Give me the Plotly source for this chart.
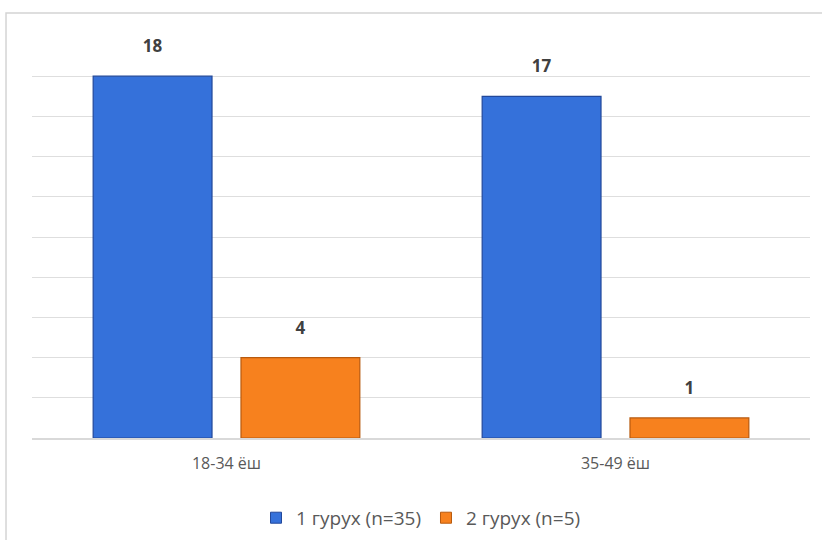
import plotly.graph_objects as go

categories = ["18-34 ёш", "35-49 ёш"]
series_names = ["1 гурух (n=35)", "2 гурух (n=5)"]
group1 = [18, 17]
group2 = [4, 1]

colors = ["#3571DA", "#F7811E"]
edge_colors = ["#22489A", "#B85A0E"]

fig = go.Figure()
for i, (name, vals, col, edge) in enumerate(zip(series_names, [group1, group2], colors, edge_colors)):
    fig.add_trace(go.Bar(
        x=categories, y=vals, name=name, showlegend=False,
        offsetgroup=str(i),
        marker=dict(color=col, line=dict(color=edge, width=1.2)),
    ))
# value labels, aligned with the bars through the group offsets
for i, vals in enumerate([group1, group2]):
    fig.add_trace(go.Scatter(
        x=categories, y=vals, mode="markers+text", showlegend=False,
        offsetgroup=str(i), hoverinfo="skip",
        text=[str(v) for v in vals], textposition="top center",
        textfont=dict(size=17, color="#404040", family="Open Sans", weight="bold"),
        marker=dict(size=30, opacity=0),
        cliponaxis=False,
    ))
# legend entries with small square symbols
for name, col, edge in zip(series_names, colors, edge_colors):
    fig.add_trace(go.Scatter(
        x=[None], y=[None], mode="markers", name=name,
        marker=dict(symbol="square", size=11, color=col, line=dict(color=edge, width=1)),
    ))

fig.update_layout(
    width=822, height=540,
    margin=dict(l=32, r=12, t=36, b=102, autoexpand=False),
    paper_bgcolor="white", plot_bgcolor="white",
    barmode="group", scattermode="group", bargap=0.24, bargroupgap=0.196,
    font=dict(family="Open Sans", size=14, color="#595959"),
    showlegend=True,
    legend=dict(orientation="h", x=0.5, xanchor="center", yref="container",
                y=0.041, yanchor="middle",
                font=dict(size=19, color="#595959"), itemwidth=30),
    xaxis=dict(showline=True, linecolor="#d9d9d9", linewidth=1.5, ticks="",
               tickfont=dict(size=16, color="#595959"), ticklabelstandoff=10),
    yaxis=dict(range=[0, 20], dtick=2, showticklabels=False, gridcolor="#dedede",
               gridwidth=1, zeroline=False, showline=False),
    shapes=[dict(type="rect", xref="paper", yref="paper",
                 x0=-0.0334, x1=1.1, y0=-0.5, y1=1.057,
                 line=dict(color="#d4d4d4", width=1.5), layer="below")],
)

fig.write_html("out.html")
